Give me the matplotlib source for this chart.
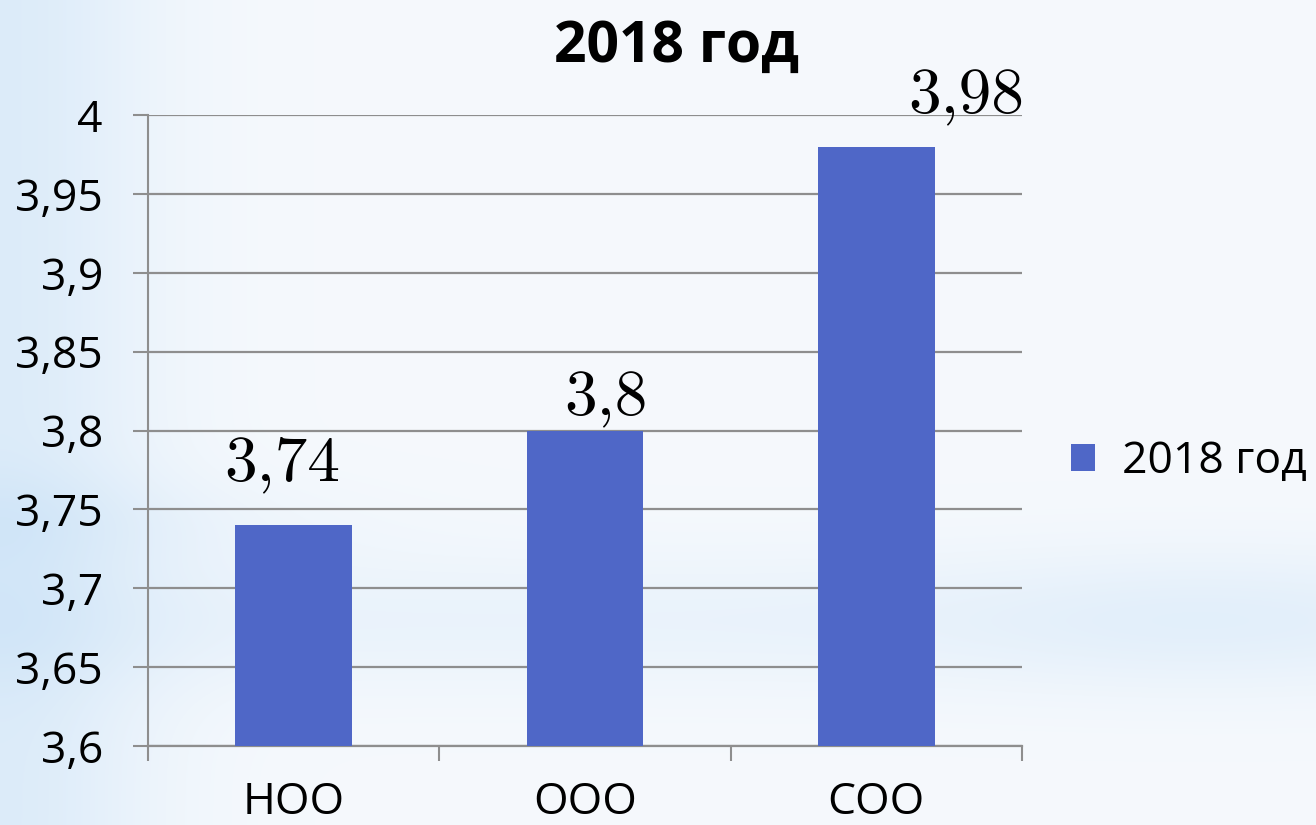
import numpy as np
import matplotlib
matplotlib.use("Agg")
import matplotlib.pyplot as plt
from matplotlib.ticker import FixedLocator, NullFormatter

categories = ["НОО", "ООО", "СОО"]
values = [3.74, 3.8, 3.98]
value_labels = ["3,74", "3,8", "3,98"]
series_name = "2018 год"
title = "2018 год"
y_ticks = [3.6, 3.65, 3.7, 3.75, 3.8, 3.85, 3.9, 3.95, 4.0]
y_tick_labels = ["3,6", "3,65", "3,7", "3,75", "3,8", "3,85", "3,9", "3,95", "4"]

BAR = "#4F67C7"
GRID = "#8E8E8E"
SANS = ["Open Sans", "DejaVu Sans"]
PX = 72 / 100  # points per pixel

W, H = 1316, 825
fig = plt.figure(figsize=(W / 100, H / 100), dpi=100)

# background gradient
bg = fig.add_axes([0, 0, 1, 1], zorder=-10)
yy, xx = np.mgrid[0:H, 0:W]
base = np.array([0.962, 0.976, 0.991])
blue = np.array([0.80, 0.89, 0.97])
w = np.zeros((H, W))
w += 0.60 * np.exp(-((xx) / 150.0) ** 2)
w += 0.45 * np.exp(-((yy - 620) / 70.0) ** 2) * (0.6 + 0.4 * np.exp(-((xx - 1200) / 250.0) ** 2))
w += 0.25 * np.exp(-((yy - 520) / 50.0) ** 2) * np.exp(-((xx) / 300.0) ** 2)
w = np.clip(w, 0, 1)
img = base[None, None, :] * (1 - w[..., None]) + blue[None, None, :] * w[..., None]
bg.imshow(img, aspect="auto", extent=[0, 1, 0, 1], origin="upper")
bg.axis("off")

ax = fig.add_axes([148 / W, 1 - 746 / H, (1022 - 148) / W, (746 - 115) / H])
ax.patch.set_alpha(0)

x = np.arange(len(categories))
bars = ax.bar(x, values, width=0.4, color=BAR, zorder=3, label=series_name)

ax.set_xlim(-0.5, len(categories) - 0.5)
ax.set_ylim(3.6, 4.0)

ax.yaxis.set_major_locator(FixedLocator(y_ticks))
ax.set_yticklabels(y_tick_labels, fontsize=32, family=SANS)
ax.tick_params(axis="y", length=15 * PX, width=1.5, color=GRID, pad=30 * PX)
ax.grid(axis="y", color=GRID, linewidth=1.6, zorder=1)

ax.set_xticks(x)
ax.set_xticklabels(categories, fontsize=32, family=SANS)
ax.tick_params(axis="x", which="major", length=0, pad=34 * PX)
ax.xaxis.set_minor_locator(FixedLocator(np.arange(-0.5, len(categories), 1.0)))
ax.xaxis.set_minor_formatter(NullFormatter())
ax.tick_params(axis="x", which="minor", length=15 * PX, width=1.5, color=GRID)

for s in ["top", "right"]:
    ax.spines[s].set_visible(False)
ax.spines["left"].set_color(GRID)
ax.spines["left"].set_linewidth(1.5)
ax.spines["bottom"].set_color(GRID)
ax.spines["bottom"].set_linewidth(1.6)

# data labels (manually offset in the original)
offsets = [(-11, 45), (21, 15), (90, 33)]
for b, lab, (dx, dy) in zip(bars, value_labels, offsets):
    ax.annotate(lab, (b.get_x() + b.get_width() / 2, b.get_height()),
                xytext=(dx, dy), textcoords="offset pixels",
                ha="center", va="baseline", fontsize=47, family="cmr10")

fig.text(676 / W, 1 - 62 / H, title, ha="center", va="baseline",
         fontsize=41, fontweight="bold", family=SANS)

leg = fig.legend(handles=[bars], labels=[series_name], loc="center left",
                 bbox_to_anchor=(1053 / W, 1 - 462 / H), frameon=False,
                 prop={"family": SANS, "size": 32}, handlelength=0.55,
                 handleheight=0.55, handletextpad=0.6, borderaxespad=0)

fig.savefig("out.png", dpi=100)
